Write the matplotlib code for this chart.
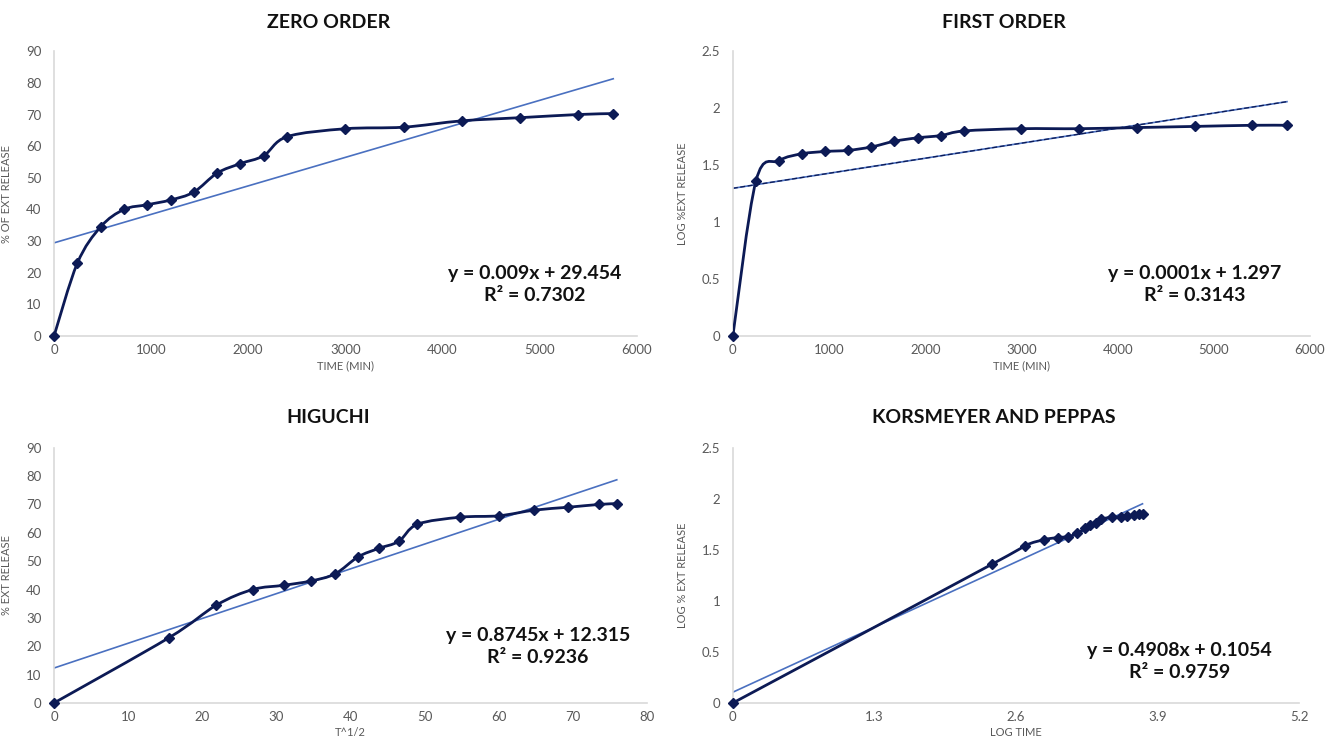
import numpy as np
import matplotlib
matplotlib.use("Agg")
import matplotlib.pyplot as plt
from matplotlib.path import Path
from matplotlib.patches import PathPatch
from matplotlib.ticker import FormatStrFormatter

plt.rcParams['font.family'] = ['Lato', 'DejaVu Sans']

# data
time_min = [0, 240, 480, 720, 960, 1200, 1440, 1680, 1920, 2160, 2400, 3000, 3600, 4200, 4800, 5400, 5760]
pct_release = [0, 23, 34.5, 40, 41.5, 43, 45.5, 51.5, 54.5, 57, 63, 65.5, 66, 68, 69, 70, 70.3]
log_release = [0, 1.36, 1.54, 1.60, 1.62, 1.63, 1.66, 1.71, 1.74, 1.76, 1.80, 1.82, 1.82, 1.83, 1.84, 1.85, 1.85]
sqrt_time = [0, 15.5, 21.9, 26.8, 31.0, 34.6, 37.9, 41.0, 43.8, 46.5, 49.0, 54.8, 60.0, 64.8, 69.3, 73.5, 75.9]
log_time = [0, 2.38, 2.68, 2.86, 2.98, 3.08, 3.16, 3.23, 3.28, 3.33, 3.38, 3.48, 3.56, 3.62, 3.68, 3.73, 3.76]

titles = ["ZERO ORDER", "FIRST ORDER", "HIGUCHI", "KORSMEYER AND PEPPAS"]
xlabels = ["TIME (MIN)", "TIME (MIN)", "T^1/2", "LOG TIME"]
ylabels = ["% OF EXT RELEASE", "LOG %EXT RELEASE", "% EXT RELEASE", "LOG % EXT RELEASE"]
equations = ["y = 0.009x + 29.454\nR² = 0.7302",
             "y = 0.0001x + 1.297\nR² = 0.3143",
             "y = 0.8745x + 12.315\nR² = 0.9236",
             "y = 0.4908x + 0.1054\nR² = 0.9759"]
# trendline slope / intercept (slope of first order as drawn)
fit_slope = [0.009, 0.000132, 0.8745, 0.4908]
fit_icept = [29.454, 1.297, 12.315, 0.1054]

navy = "#0c1a55"
trend_blue = "#4a70c0"
grey = "#595959"


def smooth_path(x, y):
    # Excel style smoothed line: cubic bezier through the points
    x = np.asarray(x, float)
    y = np.asarray(y, float)
    n = len(x)
    verts = [(x[0], y[0])]
    codes = [Path.MOVETO]
    for i in range(n - 1):
        p0 = np.array([x[max(i - 1, 0)], y[max(i - 1, 0)]])
        p1 = np.array([x[i], y[i]])
        p2 = np.array([x[i + 1], y[i + 1]])
        p3 = np.array([x[min(i + 2, n - 1)], y[min(i + 2, n - 1)]])
        c1 = p1 + (p2 - p0) / 6.0
        c2 = p2 - (p3 - p1) / 6.0
        verts += [tuple(c1), tuple(c2), tuple(p2)]
        codes += [Path.CURVE4] * 3
    return Path(verts, codes)


fig = plt.figure(figsize=(13.3, 7.42), dpi=100)
rects = [[0.0406, 0.547, 0.438, 0.384],
         [0.551, 0.547, 0.434, 0.384],
         [0.0406, 0.0526, 0.446, 0.344],
         [0.551, 0.0526, 0.426, 0.344]]
xs = [time_min, time_min, sqrt_time, log_time]
ys = [pct_release, log_release, pct_release, log_release]
xlims = [(0, 6000), (0, 6000), (0, 80), (0, 5.2)]
xticks = [np.arange(0, 6001, 1000), np.arange(0, 6001, 1000), np.arange(0, 81, 10), [0, 1.3, 2.6, 3.9, 5.2]]
ylims = [(0, 90), (0, 2.5), (0, 90), (0, 2.5)]
yticks = [np.arange(0, 91, 10), [0, 0.5, 1, 1.5, 2, 2.5], np.arange(0, 91, 10), [0, 0.5, 1, 1.5, 2, 2.5]]
title_pos = [(0.247, 0.970), (0.755, 0.970), (0.247, 0.437), (0.747, 0.437)]
eq_pos = [(0.825, 0.18), (0.80, 0.182), (0.816, 0.223), (0.788, 0.163)]

for k in range(4):
    ax = fig.add_axes(rects[k])
    x = np.asarray(xs[k], float)
    y = np.asarray(ys[k], float)

    # trendline
    tx = np.array([0, x[-1]])
    ty = fit_slope[k] * tx + fit_icept[k]
    ax.plot(tx, ty, color=trend_blue, lw=1.2, zorder=2)
    if k == 1:
        ax.plot(tx, ty, color=navy, lw=0.9, ls=(0, (4, 2)), zorder=2)

    ax.add_patch(PathPatch(smooth_path(x, y), fc="none", ec=navy, lw=2.0, zorder=3))
    ax.plot(x, y, ls="none", marker="D", ms=5.5, color=navy, zorder=4, clip_on=False)

    ax.set_xlim(*xlims[k])
    ax.set_ylim(*ylims[k])
    ax.set_xticks(xticks[k])
    ax.set_yticks(yticks[k])
    ax.xaxis.set_major_formatter(FormatStrFormatter("%g"))
    ax.yaxis.set_major_formatter(FormatStrFormatter("%g"))
    for s in ["top", "right"]:
        ax.spines[s].set_visible(False)
    for s in ["left", "bottom"]:
        ax.spines[s].set_color("#d9d9d9")
        ax.spines[s].set_linewidth(1.2)
    ax.tick_params(length=0, labelsize=9.5, labelcolor=grey)
    ax.tick_params(axis="x", pad=6)
    ax.tick_params(axis="y", pad=9)
    ax.set_xlabel(xlabels[k], fontsize=8, color=grey, labelpad=3)
    ax.set_ylabel(ylabels[k], fontsize=8, color=grey, labelpad=10)

    ax.text(eq_pos[k][0], eq_pos[k][1], equations[k], transform=ax.transAxes,
            ha="center", va="center", fontsize=14, fontweight="bold",
            color="#111111", linespacing=1.35)

    fig.text(title_pos[k][0], title_pos[k][1], titles[k], ha="center", va="center",
             fontsize=14, fontweight="bold", color="#111111")

fig.savefig("out.png", dpi=100)
